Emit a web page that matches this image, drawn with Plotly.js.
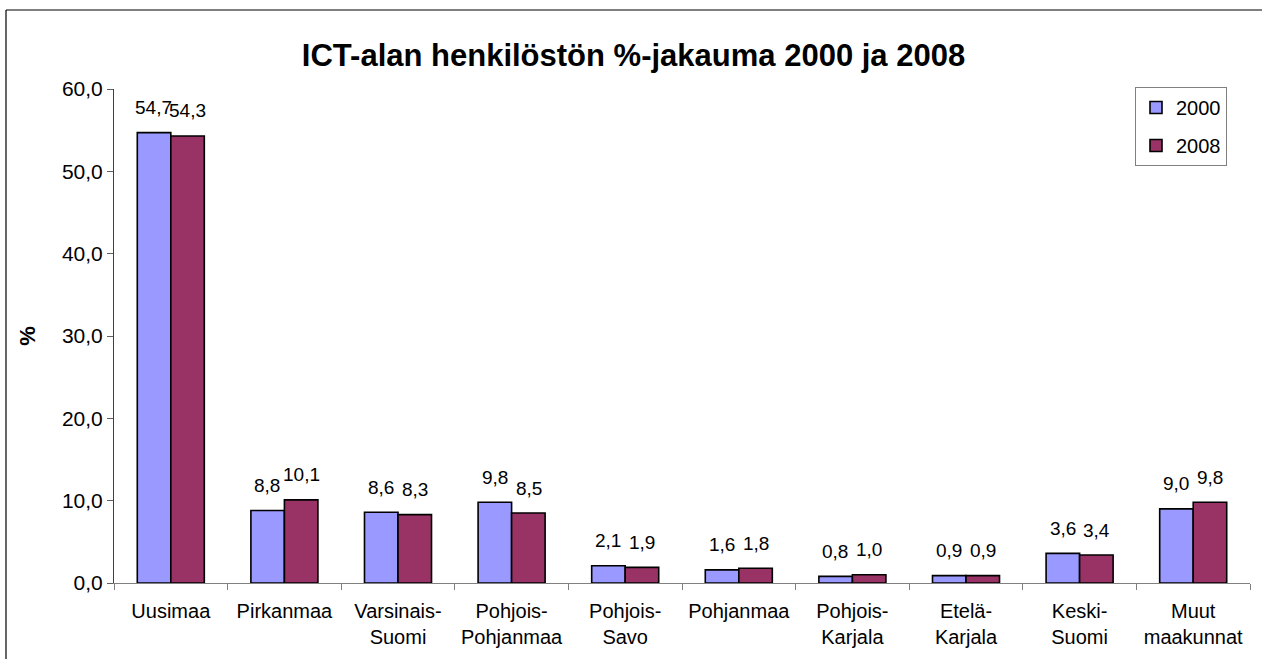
<!DOCTYPE html>
<html>
<head>
<meta charset="utf-8">
<script src="https://cdn.plot.ly/plotly-3.0.1.min.js"></script>
<style>html,body{margin:0;padding:0;background:#fff;overflow:hidden;}#chart{width:1262px;height:659px;}</style>
</head>
<body>
<div id="chart"></div>
<script>
const categories = ["Uusimaa", "Pirkanmaa", "Varsinais-<br>Suomi", "Pohjois-<br>Pohjanmaa", "Pohjois-<br>Savo", "Pohjanmaa", "Pohjois-<br>Karjala", "Etelä-<br>Karjala", "Keski-<br>Suomi", "Muut<br>maakunnat"];
const values2000 = [54.7, 8.8, 8.6, 9.8, 2.1, 1.6, 0.8, 0.9, 3.6, 9.0];
const values2008 = [54.3, 10.1, 8.3, 8.5, 1.9, 1.8, 1.0, 0.9, 3.4, 9.8];
const seriesNames = ["2000", "2008"];
const yTickVals = [0, 10, 20, 30, 40, 50, 60];

const FONT = "Arial, 'Liberation Sans', sans-serif";
const fmt = v => v.toFixed(1).replace('.', ',');

const traces = [
  {type: 'bar', name: seriesNames[0], x: categories, y: values2000, legendgroup: 'a',
   marker: {color: '#9999FF', line: {color: '#000000', width: 1.6}}, hoverinfo: 'none'},
  {type: 'bar', name: seriesNames[1], x: categories, y: values2008, legendgroup: 'b',
   marker: {color: '#993366', line: {color: '#000000', width: 1.6}}, hoverinfo: 'none'}
];

const annotations = [];
[values2000, values2008].forEach((vals, s) => {
  vals.forEach((v, i) => {
    annotations.push({x: categories[i], y: v, xref: 'x', yref: 'y', text: fmt(v),
      showarrow: false, xshift: s === 0 ? -17 : 17, yshift: 25, yanchor: 'middle',
      font: {family: FONT, size: 19, color: '#000'}});
  });
});

const fx0 = (6-114)/1136, fyTop = (583-10)/494;

const layout = {
  width: 1262, height: 659,
  margin: {l: 114, r: 12, t: 89, b: 76, autoexpand: false},
  paper_bgcolor: '#fff', plot_bgcolor: '#fff',
  font: {family: FONT, color: '#000'},
  title: {text: '<b>ICT-alan henkilöstön %-jakauma 2000 ja 2008</b>', font: {family: FONT, size: 31, color: '#000'},
    x: 0.502, xref: 'container', xanchor: 'center', y: 1 - 55/659, yref: 'container', yanchor: 'middle'},
  barmode: 'group', bargap: 0.41, bargroupgap: 0,
  separators: ', ',
  xaxis: {type: 'category', showline: true, linecolor: '#808080', linewidth: 1, ticks: 'outside', tickson: 'boundaries',
    ticklen: 6, tickcolor: '#808080', tickfont: {family: FONT, size: 20, color: '#000'}, ticklabelstandoff: 10,
    showgrid: false, zeroline: false, automargin: false, fixedrange: true},
  yaxis: {range: [0, 60], tickvals: yTickVals, tickformat: '.1f', showline: true, linecolor: '#404040', linewidth: 1,
    ticks: 'outside', ticklen: 6, tickcolor: '#606060', tickfont: {family: FONT, size: 21, color: '#000'},
    showgrid: false, zeroline: false, automargin: false, fixedrange: true,
    title: {text: '<b>%</b>', font: {family: FONT, size: 22, color: '#000'}, standoff: 20}},
  showlegend: true,
  legend: {x: (1135-114)/1136, y: (583-87)/494, xanchor: 'left', yanchor: 'top', bgcolor: '#fff',
    bordercolor: '#808080', borderwidth: 1, font: {family: FONT, size: 20, color: '#000'}, tracegroupgap: 9,
    traceorder: 'grouped'},
  annotations: annotations,
  shapes: [
    {type: 'line', xref: 'paper', yref: 'paper', x0: fx0, x1: 1.1, y0: fyTop, y1: fyTop, line: {color: '#000', width: 1.2}},
    {type: 'line', xref: 'paper', yref: 'paper', x0: fx0, x1: fx0, y0: -0.2, y1: fyTop, line: {color: '#000', width: 1.2}}
  ]
};

Plotly.newPlot('chart', traces, layout, {displayModeBar: false, staticPlot: true});
</script>
</body>
</html>
